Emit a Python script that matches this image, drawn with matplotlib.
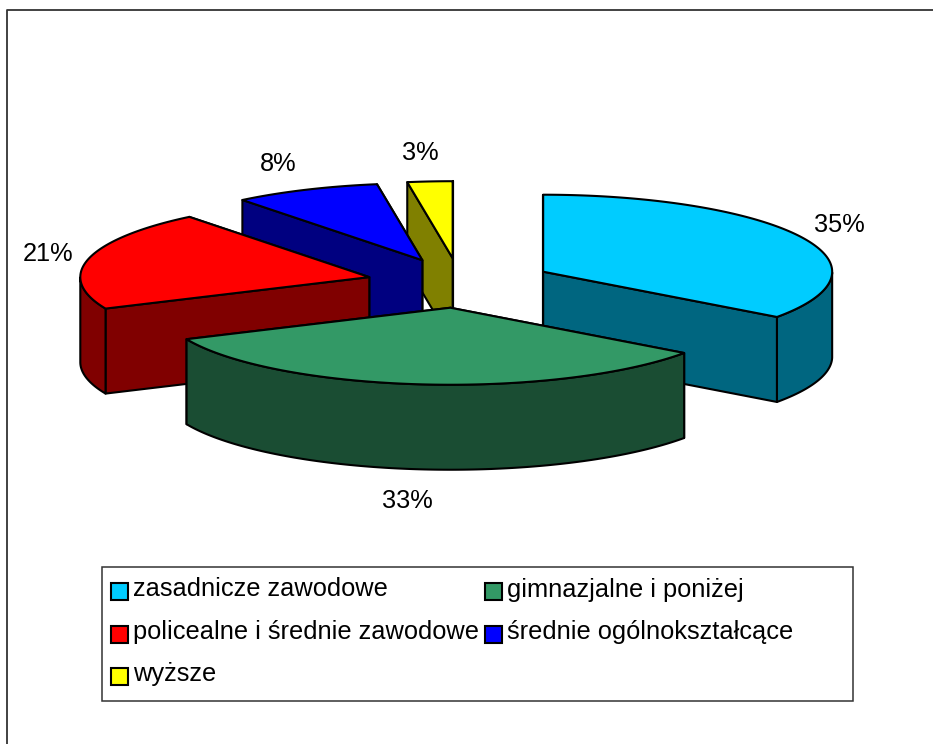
import numpy as np
import matplotlib
matplotlib.use('Agg')
import matplotlib.pyplot as plt
from matplotlib.patches import Polygon, Rectangle
from matplotlib.colors import to_rgb

categories = ['zasadnicze zawodowe', 'gimnazjalne i poniżej',
              'policealne i średnie zawodowe', 'średnie ogólnokształcące', 'wyższe']
shares = [35, 33.3, 21, 8.19, 2.51]
colors = ['#00CCFF', '#339966', '#FF0000', '#0000FF', '#FFFF00']

# pixel layout of the fake 3d pie
cx, cy = 460, 283
rx, ry = 289, 77
depth = 85
explode = 0.323
label_pos = [(839, 225), (407, 501), (48, 254), (278, 164), (420, 153)]
draw_order = [4, 3, 2, 0, 1]

plt.rcParams['font.family'] = ['Liberation Sans', 'DejaVu Sans']
fig = plt.figure(figsize=(9.33, 7.44), dpi=100)
ax = fig.add_axes([0, 0, 1, 1])
ax.set_xlim(0, 933)
ax.set_ylim(744, 0)
ax.axis('off')

# outer frame, runs off the right and bottom
ax.plot([7, 7, 933], [744, 10, 10], color='#333333', lw=1.3, zorder=1)


def rim(ox, oy, t):
    return np.column_stack([ox + rx * np.sin(t), oy - ry * np.cos(t)])


edges = np.concatenate([[0], np.cumsum(shares)]) / np.sum(shares) * 2 * np.pi
z = 2
for i in draw_order:
    t0, t1 = edges[i], edges[i + 1]
    mid = (t0 + t1) / 2
    ox = cx + explode * rx * np.sin(mid)
    oy = cy - explode * ry * np.cos(mid)
    top_col = to_rgb(colors[i])
    side_col = tuple(c * 0.5 for c in top_col)
    t = np.linspace(t0, t1, 200)
    arc = rim(ox, oy, t)
    down = np.array([0, depth])
    apex = np.array([ox, oy])

    # cut faces, the one further back goes first
    faces = sorted([arc[0], arc[-1]], key=lambda p: p[1])
    for p in faces:
        quad = [apex, p, p + down, apex + down]
        ax.add_patch(Polygon(quad, fc=side_col, ec='black', lw=1.5, joinstyle='round', zorder=z))
        z += 1

    # outer wall, only the front half shows
    front = t[np.cos(t) < 0]
    if len(front) > 1:
        wall = rim(ox, oy, front)
        ax.add_patch(Polygon(np.vstack([wall, wall[::-1] + down]), fc=side_col, ec='black',
                             lw=1.5, joinstyle='round', zorder=z))
        z += 1

    ax.add_patch(Polygon(np.vstack([apex, arc]), fc=top_col, ec='black', lw=1.5,
                         joinstyle='round', zorder=z))
    z += 1

for s, (x, y) in zip(shares, label_pos):
    ax.text(x, y, '%d%%' % round(s), ha='center', va='center', fontsize=18.3, color='black', zorder=50)

# legend box
ax.add_patch(Rectangle((102, 567), 751, 134, fc='white', ec='#333333', lw=1.1, zorder=60))
key_x = [111, 485]
key_y = [591, 634, 676]
for i, name in enumerate(categories):
    x = key_x[i % 2]
    y = key_y[i // 2]
    ax.add_patch(Rectangle((x, y - 8.5), 17, 17, fc=colors[i], ec='black', lw=1.5, zorder=61))
    ax.text(x + 22, y - 1.5, name, ha='left', va='center', fontsize=18.3, color='black', zorder=61)

fig.savefig('out.png', dpi=100)
